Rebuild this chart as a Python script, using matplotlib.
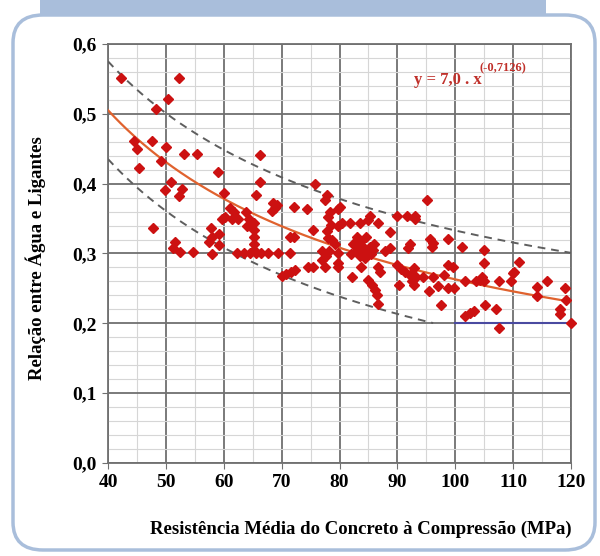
import numpy as np
import matplotlib
matplotlib.use("Agg")
import matplotlib.pyplot as plt
from matplotlib.patches import FancyBboxPatch, Rectangle
from matplotlib.ticker import MultipleLocator, FuncFormatter

# strength (MPa) and water/binder ratio
resist = [
    42.2, 52.2, 50.4, 48.3, 44.5, 45.0, 47.6, 50.0, 53.2, 55.3, 49.2, 45.3, 59.0, 50.9,
    49.8, 52.7, 52.2, 60.0, 47.7, 51.5, 51.2, 52.5, 54.7, 58.0, 57.8, 58.0, 59.1, 59.1,
    57.5, 60.3,
    66.3, 66.2, 65.6, 61.0, 61.8, 61.5, 62.4, 63.8, 64.4, 64.1, 59.7,
    65.2, 65.2, 65.2, 65.2, 65.2,
    62.3, 63.5, 64.5, 65.5, 66.5, 67.7, 69.3, 71.5,
    68.5, 69.2, 68.4, 68.9, 72.2, 74.3, 71.5, 72.2, 70.8, 72.3,
    75.8, 75.5, 75.5, 77.8, 77.5, 80.1, 78.3, 78.0, 79.8, 78.5, 77.8, 78.0, 78.7, 79.3,
    79.8, 80.4, 81.8, 83.5, 85.3, 86.7, 85.0, 89.9, 91.6, 93.0, 88.8,
    77.0, 78.2, 77.7, 76.9, 77.5, 79.8, 79.8, 79.8, 74.6, 71.7, 70.0,
    82.3, 82.9, 83.8, 84.1, 84.7, 85.2, 85.5, 83.5, 82.0, 84.6, 83.1, 86.0, 84.4, 83.0,
    85.8,
    87.9, 88.7, 91.9, 83.8, 86.7, 87.0, 82.1, 85.0, 85.6, 86.1, 86.4, 86.7,
    89.9, 90.7, 91.3, 92.2, 92.5, 92.8, 90.2,
    95.2, 93.0, 95.7, 95.9, 98.8, 101.2, 105.0, 105.0, 111.0, 92.8, 93.3, 94.5, 96.2,
    97.1, 95.4, 98.0, 98.8, 99.6, 98.8, 99.7, 101.7, 103.5, 104.3, 104.6, 104.9, 107.5,
    109.6, 109.9, 110.1, 115.9, 114.1, 114.1, 119.0, 119.1, 118.1, 118.1, 97.5, 101.7,
    102.6, 103.2, 105.2, 107.0, 107.5, 120.0, 92.2, 96.2,
]
rel_ag = [
    0.552, 0.552, 0.521, 0.507, 0.461, 0.449, 0.461, 0.452, 0.443, 0.443, 0.433, 0.422,
    0.417, 0.402, 0.391, 0.392, 0.382, 0.387, 0.336, 0.316, 0.308, 0.302, 0.302, 0.300,
    0.336, 0.323, 0.328, 0.312, 0.317, 0.352,
    0.441, 0.402, 0.384, 0.365, 0.360, 0.349, 0.349, 0.360, 0.349, 0.340, 0.349,
    0.343, 0.334, 0.324, 0.314, 0.305,
    0.301, 0.301, 0.301, 0.301, 0.301, 0.301, 0.301, 0.301,
    0.372, 0.369, 0.361, 0.365, 0.366, 0.364, 0.323, 0.323, 0.271, 0.277,
    0.399, 0.334, 0.280, 0.384, 0.376, 0.367, 0.360, 0.352, 0.364, 0.341, 0.332, 0.322,
    0.319, 0.313, 0.339, 0.343, 0.343, 0.343, 0.353, 0.343, 0.348, 0.353, 0.353, 0.353,
    0.331,
    0.304, 0.304, 0.297, 0.290, 0.280, 0.301, 0.287, 0.280, 0.280, 0.273, 0.268,
    0.313, 0.304, 0.318, 0.309, 0.302, 0.309, 0.299, 0.297, 0.300, 0.323, 0.323, 0.313,
    0.293, 0.310, 0.305,
    0.304, 0.308, 0.308, 0.280, 0.280, 0.273, 0.267, 0.262, 0.255, 0.248, 0.241, 0.227,
    0.283, 0.278, 0.273, 0.269, 0.260, 0.255, 0.255,
    0.377, 0.349, 0.321, 0.309, 0.321, 0.310, 0.305, 0.287, 0.288, 0.279, 0.267, 0.267,
    0.267, 0.253, 0.246, 0.269, 0.284, 0.280, 0.251, 0.251, 0.260, 0.260, 0.262, 0.267,
    0.260, 0.260, 0.260, 0.272, 0.274, 0.260, 0.252, 0.239, 0.251, 0.234, 0.220, 0.213,
    0.226, 0.210, 0.215, 0.218, 0.226, 0.220, 0.194, 0.201, 0.314, 0.315,
]

# fitted curve y = 7,0 . x^(-0,7126) and +/- 0,07 band
fit_a = 7.0
fit_b = -0.7126
band = 0.07
limit_start = 100  # blue 0,2 line
limit_value = 0.2

plt.rcParams["font.family"] = ["Liberation Serif", "DejaVu Serif"]
plt.rcParams["font.weight"] = "bold"

fig = plt.figure(figsize=(6, 5.56), dpi=100)

# frame decoration
fig.patches.append(Rectangle((40 / 600, 1 - 14 / 556), 506 / 600, 14 / 556,
                             transform=fig.transFigure, facecolor="#a9bedb",
                             edgecolor="none", zorder=0))
fig.patches.append(FancyBboxPatch((13 / 600, 6 / 556), 582 / 600, 535 / 556,
                                  boxstyle="round,pad=0,rounding_size=0.05",
                                  transform=fig.transFigure, facecolor="white",
                                  edgecolor="#a9bedb", linewidth=2.5, zorder=1))

ax = fig.add_axes([108 / 600, 1 - 463 / 556, 463 / 600, 419 / 556])
ax.set_zorder(2)
ax.set_facecolor("white")

xs = np.linspace(40, 120, 300)
fit = fit_a * xs ** fit_b
ax.plot(xs, fit + band, ls=(0, (4, 3)), color="#5e5e5e", lw=1.4, zorder=3)
low = fit - band
mask = low >= limit_value
ax.plot(xs[mask], low[mask], ls=(0, (4, 3)), color="#5e5e5e", lw=1.4, zorder=3)
ax.plot([limit_start, 120], [limit_value, limit_value], color="#4a4aa0", lw=1.5, zorder=3)
ax.plot(xs, fit, color="#e0622e", lw=1.6, zorder=3)

ax.plot(resist, rel_ag, ls="none", marker="D", markersize=5.6, color="#cc1111",
        markeredgecolor="#cc1111", zorder=4, clip_on=False)

ax.set_xlim(40, 120)
ax.set_ylim(0, 0.6)
ax.xaxis.set_major_locator(MultipleLocator(10))
ax.xaxis.set_minor_locator(MultipleLocator(5))
ax.yaxis.set_major_locator(MultipleLocator(0.1))
ax.yaxis.set_minor_locator(MultipleLocator(0.02))
ax.yaxis.set_major_formatter(FuncFormatter(lambda v, p: f"{v:.1f}".replace(".", ",")))
ax.grid(which="major", color="#707070", lw=1.3)
ax.grid(which="minor", color="#d6d6d6", lw=0.8)
ax.set_axisbelow(True)
for s in ax.spines.values():
    s.set_color("#707070")
    s.set_linewidth(1.3)
ax.tick_params(which="major", labelsize=14, length=4, color="#707070", pad=4)
ax.tick_params(which="minor", length=0)

ax.set_ylabel("Relação entre Água e Ligantes", fontsize=13.5, fontweight="bold")
ax.yaxis.set_label_coords(-0.133, 0.49)
ax.set_xlabel("Resistência Média do Concreto à Compressão (MPa)", fontsize=13.5,
              fontweight="bold")
ax.xaxis.set_label_coords(0.546, -0.138)

ax.text(0.660, 0.905, "y = 7,0 . x", transform=ax.transAxes, color="#c0302a",
        fontsize=12, fontweight="bold", ha="left", va="baseline")
ax.text(0.803, 0.935, "(-0,7126)", transform=ax.transAxes, color="#c0302a",
        fontsize=9, fontweight="bold", ha="left", va="baseline")

fig.savefig("out.png", dpi=100)
